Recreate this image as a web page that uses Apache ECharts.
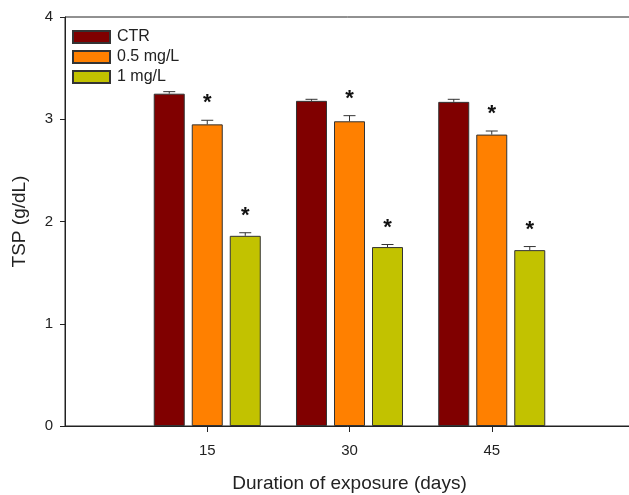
<!DOCTYPE html>
<html><head><meta charset="utf-8">
<script src="https://cdn.jsdelivr.net/npm/echarts@6/dist/echarts.min.js"></script>
<style>html,body{margin:0;padding:0;background:#fff}#c{width:629px;height:495px}</style>
</head><body><div id="c"></div>
<script>
// ---- data ----
const days = [15, 30, 45];
const seriesNames = ['CTR', '0.5 mg/L', '1 mg/L'];
const ctrMean = [3.25, 3.18, 3.17];
const ctrErr  = [0.02, 0.015, 0.025];
const lowMean = [2.95, 2.98, 2.85];
const lowErr  = [0.04, 0.055, 0.035];
const highMean = [1.86, 1.75, 1.72];
const highErr  = [0.03, 0.025, 0.035];
const ctrSig  = ['', '', ''];
const lowSig  = ['*', '*', '*'];
const highSig = ['*', '*', '*'];
const xTickValues = [15, 30, 45];
const yTickValues = [0, 1, 2, 3, 4];

// ---- style ----
const FONT = 'Liberation Sans, Arial, Helvetica, sans-serif';
const TXT = '#222';
const colors = ['#800000', '#FF8000', '#C2C200'];
const BAR_W = 31, GAP = 7;

const means = [ctrMean, lowMean, highMean];
const errs = [ctrErr, lowErr, highErr];
const sigs = [ctrSig, lowSig, highSig];

const barSeries = seriesNames.map((name, i) => ({
  name, type: 'bar',
  data: days.map((d, j) => [d, means[i][j]]),
  barWidth: BAR_W,
  barGap: (GAP / BAR_W * 100).toFixed(1) + '%',
  itemStyle: { color: colors[i], borderColor: '#333', borderWidth: 1 },
  z: 2
}));

const errSeries = seriesNames.map((name, i) => ({
  name: 'err_' + i, type: 'custom',
  data: days.map((d, j) => [d, means[i][j], errs[i][j], sigs[i][j]]),
  encode: { x: 0, y: 1 },
  z: 5, clip: false, silent: true,
  renderItem: function (params, api) {
    const x = api.value(0), m = api.value(1), e = api.value(2);
    const sig = api.value(3);
    const base = api.coord([x, m]);
    const top = api.coord([x, m + e]);
    const cx = base[0] + (i - 1) * (BAR_W + GAP);
    const children = [
      { type: 'line', shape: { x1: cx, y1: base[1], x2: cx, y2: top[1] }, style: { stroke: '#333', lineWidth: 1 } },
      { type: 'line', shape: { x1: cx - 6, y1: top[1], x2: cx + 6, y2: top[1] }, style: { stroke: '#333', lineWidth: 1 } }
    ];
    if (sig && sig !== '-' ) {
      children.push({ type: 'text', style: { text: String(sig), x: cx, y: top[1] - 17, fill: '#111',
        fontSize: 22, fontWeight: 'bold', fontFamily: FONT, align: 'center', verticalAlign: 'middle' } });
    }
    return { type: 'group', children };
  }
}));

const chart = echarts.init(document.getElementById('c'), null, { renderer: 'canvas' });
chart.setOption({
  animation: false,
  backgroundColor: '#fff',
  textStyle: { fontFamily: FONT },
  grid: { left: 65, right: -5, top: 17, bottom: 69, outerBoundsMode: 'none', containLabel: false,
          show: true, borderColor: '#222', borderWidth: 1, backgroundColor: 'transparent' },
  legend: {
    data: seriesNames, orient: 'vertical', left: 72, top: 29, padding: 0,
    itemWidth: 37, itemHeight: 12, itemGap: 4, icon: 'rect',
    textStyle: { fontSize: 16, color: TXT, fontFamily: FONT, padding: [0, 0, 0, 2] }
  },
  xAxis: {
    type: 'value', min: 0, max: 60, interval: 15,
    name: 'Duration of exposure (days)', nameLocation: 'middle', nameGap: 48,
    nameTextStyle: { fontSize: 19, color: TXT, fontFamily: FONT },
    axisLine: { lineStyle: { color: '#222', width: 1 } },
    axisTick: { show: true, length: 6, lineStyle: { color: '#222' }, customValues: xTickValues },
    axisLabel: { fontSize: 15, color: TXT, margin: 17, customValues: xTickValues, fontFamily: FONT },
    splitLine: { show: false }
  },
  yAxis: {
    type: 'value', min: 0, max: 4, interval: 1,
    name: 'TSP (g/dL)', nameLocation: 'middle', nameGap: 36,
    nameTextStyle: { fontSize: 19, color: TXT, fontFamily: FONT },
    axisLine: { show: true, lineStyle: { color: '#222', width: 1 } },
    axisTick: { show: true, length: 5, lineStyle: { color: '#222' }, customValues: yTickValues },
    axisLabel: { fontSize: 15, color: TXT, margin: 12, fontFamily: FONT },
    splitLine: { show: false }
  },
  series: barSeries.concat(errSeries)
});
</script></body></html>
